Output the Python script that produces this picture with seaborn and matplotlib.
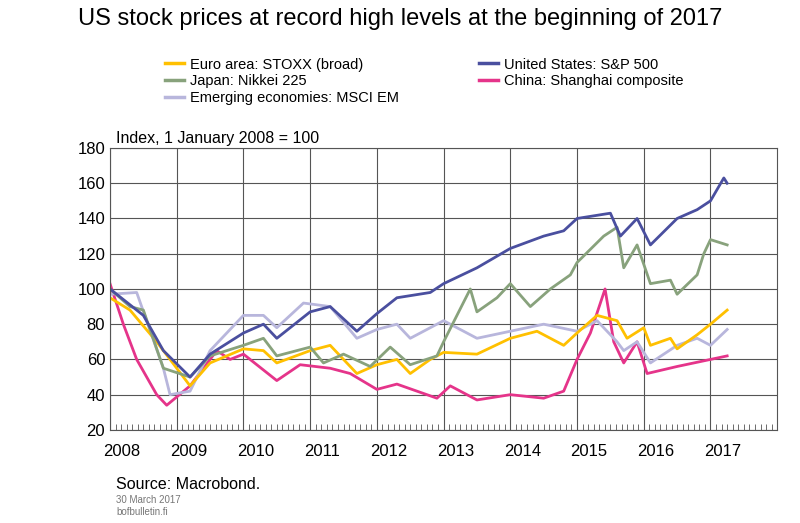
import pandas as pd
import matplotlib
matplotlib.use("Agg")
import matplotlib.pyplot as plt
import seaborn as sns
import numpy as np

# decimal-year / index readings
euro_x = [2008.0, 2008.3, 2008.7, 2009.2, 2009.5, 2010.0, 2010.3, 2010.5, 2011.0, 2011.3, 2011.7, 2012.0, 2012.3, 2012.5, 2012.8, 2013.0, 2013.5, 2014.0, 2014.4, 2014.8, 2015.0, 2015.3, 2015.6, 2015.75, 2016.0, 2016.1, 2016.4, 2016.5, 2016.8, 2017.0, 2017.25]
euro_y = [95, 88, 70, 45, 58, 66, 65, 58, 65, 68, 52, 57, 60, 52, 60, 64, 63, 72, 76, 68, 75, 85, 82, 72, 78, 68, 72, 66, 74, 80, 88]

us_x = [2008.0, 2008.5, 2008.8, 2009.2, 2009.5, 2010.0, 2010.3, 2010.5, 2011.0, 2011.3, 2011.7, 2012.0, 2012.3, 2012.8, 2013.0, 2013.5, 2014.0, 2014.5, 2014.8, 2015.0, 2015.5, 2015.65, 2015.9, 2016.1, 2016.5, 2016.8, 2017.0, 2017.2, 2017.25]
us_y = [100, 85, 65, 50, 63, 75, 80, 72, 87, 90, 76, 86, 95, 98, 103, 112, 123, 130, 133, 140, 143, 130, 140, 125, 140, 145, 150, 163, 160]

jp_x = [2008.0, 2008.3, 2008.5, 2008.8, 2009.2, 2009.5, 2010.0, 2010.3, 2010.5, 2011.0, 2011.2, 2011.5, 2011.9, 2012.2, 2012.5, 2012.9, 2013.0, 2013.4, 2013.5, 2013.8, 2014.0, 2014.3, 2014.6, 2014.9, 2015.0, 2015.4, 2015.6, 2015.7, 2015.9, 2016.1, 2016.4, 2016.5, 2016.8, 2016.9, 2017.0, 2017.25]
jp_y = [100, 90, 88, 55, 50, 62, 68, 72, 62, 67, 58, 63, 56, 67, 57, 62, 70, 100, 87, 95, 103, 90, 100, 108, 115, 130, 135, 112, 125, 103, 105, 97, 108, 120, 128, 125]

cn_x = [2008.0, 2008.2, 2008.4, 2008.7, 2008.85, 2009.2, 2009.6, 2009.8, 2010.0, 2010.5, 2010.85, 2011.3, 2011.6, 2012.0, 2012.3, 2012.9, 2013.1, 2013.5, 2014.0, 2014.5, 2014.8, 2015.0, 2015.2, 2015.42, 2015.55, 2015.7, 2015.9, 2016.05, 2016.5, 2017.0, 2017.25]
cn_y = [103, 80, 60, 40, 34, 45, 65, 60, 63, 48, 57, 55, 52, 43, 46, 38, 45, 37, 40, 38, 42, 60, 75, 100, 70, 58, 70, 52, 56, 60, 62]

em_x = [2008.0, 2008.4, 2008.8, 2008.9, 2009.2, 2009.5, 2010.0, 2010.3, 2010.5, 2010.9, 2011.3, 2011.7, 2012.0, 2012.3, 2012.5, 2013.0, 2013.5, 2014.0, 2014.5, 2015.0, 2015.3, 2015.6, 2015.7, 2015.9, 2016.1, 2016.5, 2016.8, 2017.0, 2017.25]
em_y = [97, 98, 55, 40, 42, 65, 85, 85, 78, 92, 90, 72, 77, 80, 72, 82, 72, 76, 80, 76, 82, 70, 65, 70, 58, 68, 72, 68, 77]

series = [
    ("Euro area: STOXX (broad)", euro_x, euro_y, "#FFC000"),
    ("Japan: Nikkei 225", jp_x, jp_y, "#88A27C"),
    ("Emerging economies: MSCI EM", em_x, em_y, "#B8B6DC"),
    ("United States: S&P 500", us_x, us_y, "#4A4F9F"),
    ("China: Shanghai composite", cn_x, cn_y, "#E5348A"),
]
years = list(range(2008, 2018))

frames = [pd.DataFrame({"date": x, "value": y, "series": name}) for name, x, y, c in series]
df = pd.concat(frames)
palette = {name: c for name, x, y, c in series}

plt.rcParams["font.family"] = "Liberation Sans"
fig = plt.figure(figsize=(8, 5.23), dpi=100)
ax = fig.add_axes([0.1375, 0.178, 0.834, 0.539])

# draw order: put lighter lines behind
for name in ["China: Shanghai composite", "Emerging economies: MSCI EM", "Euro area: STOXX (broad)", "Japan: Nikkei 225", "United States: S&P 500"]:
    sns.lineplot(data=df[df["series"] == name], x="date", y="value", color=palette[name],
                 linewidth=2, ax=ax, label=name, legend=False)

ax.set_xlim(2008.0, 2018.0)
ax.set_ylim(20, 180)
ax.set_yticks(range(20, 181, 20))
ax.set_xticks(years)
ax.set_xticklabels([])
ax.tick_params(axis="x", length=0)
ax.set_xticks(np.arange(2008, 2018, 1 / 12), minor=True)
ax.tick_params(axis="x", which="minor", direction="in", length=4, color="#555555")
for yr in years:
    ax.text(yr + 0.18, -0.05, str(yr), transform=ax.get_xaxis_transform(), ha="center", va="top", fontsize=12)
ax.tick_params(axis="y", labelsize=12, length=0)
ax.grid(True, color="#555555", linewidth=0.8)
for s in ax.spines.values():
    s.set_color("#555555")
ax.set_xlabel("")
ax.set_ylabel("")

handles = [plt.Line2D([], [], color=c, linewidth=2.5) for name, x, y, c in series]
fig.legend(handles, [s[0] for s in series], ncol=2, loc="upper left", bbox_to_anchor=(0.19, 0.915),
           frameon=False, fontsize=10.5, handlelength=1.3, columnspacing=5.5, labelspacing=0.2,
           handletextpad=0.4)

fig.text(0.5, 0.985, "US stock prices at record high levels at the beginning of 2017", ha="center", va="top", fontsize=17)
fig.text(0.145, 0.727, "Index, 1 January 2008 = 100", fontsize=11.5)
fig.text(0.145, 0.065, "Source: Macrobond.", fontsize=11.5)
fig.text(0.145, 0.038, "30 March 2017", fontsize=7, color="#777777")
fig.text(0.145, 0.015, "bofbulletin.fi", fontsize=7, color="#777777")

fig.savefig("out.png", dpi=100)
